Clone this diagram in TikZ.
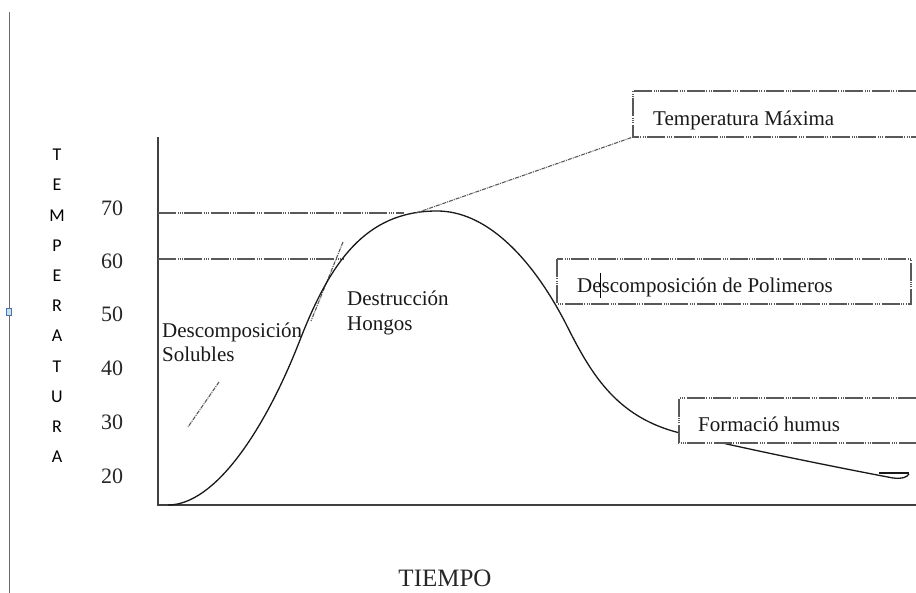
\documentclass[tikz,border=0pt]{standalone}
\usepackage{fontspec}
\setmainfont{Liberation Serif}
\newfontfamily\calib{Carlito}
\begin{document}
\begin{tikzpicture}[x=1pt,y=-1pt,
  ddline/.style={draw=black!65, line width=1.1pt, dash pattern=on 18pt off 1.5pt on 1pt off 1.2pt on 1pt off 1.2pt on 1pt off 1.5pt},
  fineline/.style={draw=black!65, line width=1.1pt, dash pattern=on 4pt off 1pt on 1pt off 1pt},
  lbl/.style={font=\fontsize{21}{25}\selectfont, text=black!90, inner sep=0pt, anchor=base west},
  numlbl/.style={font=\fontsize{22}{26}\selectfont, text=black!85, inner sep=0pt},
  vlet/.style={font=\calib\fontsize{18}{20}\selectfont, text=black, inner sep=0pt},
  axisline/.style={draw=black!75, line width=1.4pt},
  curveline/.style={draw=black!90, line width=1.3pt},
  boxline/.style={ddline, fill=white}]
\useasboundingbox (0,0) rectangle (916,593);
% left blue margin line
\draw[draw={rgb,255:red,74;green,114;blue,176}, line width=1pt] (9,12) -- (9,593);
\draw[draw={rgb,255:red,74;green,114;blue,176}, fill={rgb,255:red,200;green,225;blue,240}, line width=0.8pt] (6.5,308) rectangle (11.5,315);
% axes
\coordinate (ytop) at (158,137);
\coordinate (orig) at (158,505);
\coordinate (xend) at (916,505);
\draw[axisline] (ytop) -- (orig) -- (xend);
% reference lines
\coordinate (l70a) at (158,213);
\coordinate (l70b) at (404,213);
\coordinate (l60a) at (158,259);
\coordinate (l60b) at (343,259);
\draw[ddline] (l70a) -- (l70b);
\draw[ddline] (l60a) -- (l60b);
% tangent lines
\coordinate (ta) at (343,242);
\coordinate (tb) at (311,321);
\draw[fineline] (ta) -- (tb);
\coordinate (sa) at (219,382);
\coordinate (sb) at (188,427);
\draw[fineline] (sa) -- (sb);
% curve
\coordinate (c0) at (168,505);
\coordinate (c1) at (300,340);
\coordinate (c2) at (437,211);
\coordinate (c3) at (565,322);
\coordinate (c4) at (680,433);
\coordinate (c5) at (893,478);
\coordinate (c6) at (909,474);
\draw[curveline] (c0) .. controls (215,505) and (265,430) .. (c1)
  .. controls (330,263) and (365,211) .. (c2)
  .. controls (485,211) and (530,255) .. (c3)
  .. controls (590,372) and (615,417) .. (c4)
  .. controls (740,448) and (840,468) .. (c5)
  .. controls (903,479) and (907,477) .. (c6);
\coordinate (hk1) at (909,473);
\coordinate (hk2) at (879,473);
\draw[curveline] (hk1) -- (hk2);
% peak connector
\coordinate (pk) at (416,213);
\coordinate (b1) at (633,137);
\draw[fineline] (pk) -- (b1);
% boxes
\filldraw[boxline] (916,91) -- (633,91) -- (633,137) -- (916,137);
\node[lbl] (tmax) at (653,126) {Temperatura Máxima};
\filldraw[boxline] (557,259) rectangle (911,304);
\node[lbl] (dpol) at (577,293) {Descomposición de Polimeros};
\coordinate (cu1) at (600.5,273);
\coordinate (cu2) at (600.5,298);
\draw[black, line width=0.9pt] (cu1) -- (cu2);
\filldraw[boxline] (916,398) -- (679,398) -- (679,443) -- (916,443);
\node[lbl] (fhum) at (698,432) {Formació humus};
% inner labels
\node[lbl] (dest) at (347,306) {Destrucción};
\node[lbl] (hong) at (347,331) {Hongos};
\node[lbl] (dsol) at (162,338) {Descomposición};
\node[lbl] (solu) at (162,362) {Solubles};
% numbers
\node[numlbl] (n70) at (112,208) {70};
\node[numlbl] (n60) at (112,261) {60};
\node[numlbl] (n50) at (112,314) {50};
\node[numlbl] (n40) at (112,368) {40};
\node[numlbl] (n30) at (112,422) {30};
\node[numlbl] (n20) at (112,476) {20};
% vertical axis title
\foreach \l [count=\i from 0] in {T,E,M,P,E,R,A,T,U,R,A}
  \node[vlet] (v\i) at (57,{155+30.2*\i}) {\l};
% x axis title
\node[font=\fontsize{25}{30}\selectfont, text=black!85, inner sep=0pt] (tiempo) at (445,578) {TIEMPO};
\end{tikzpicture}
\end{document}
